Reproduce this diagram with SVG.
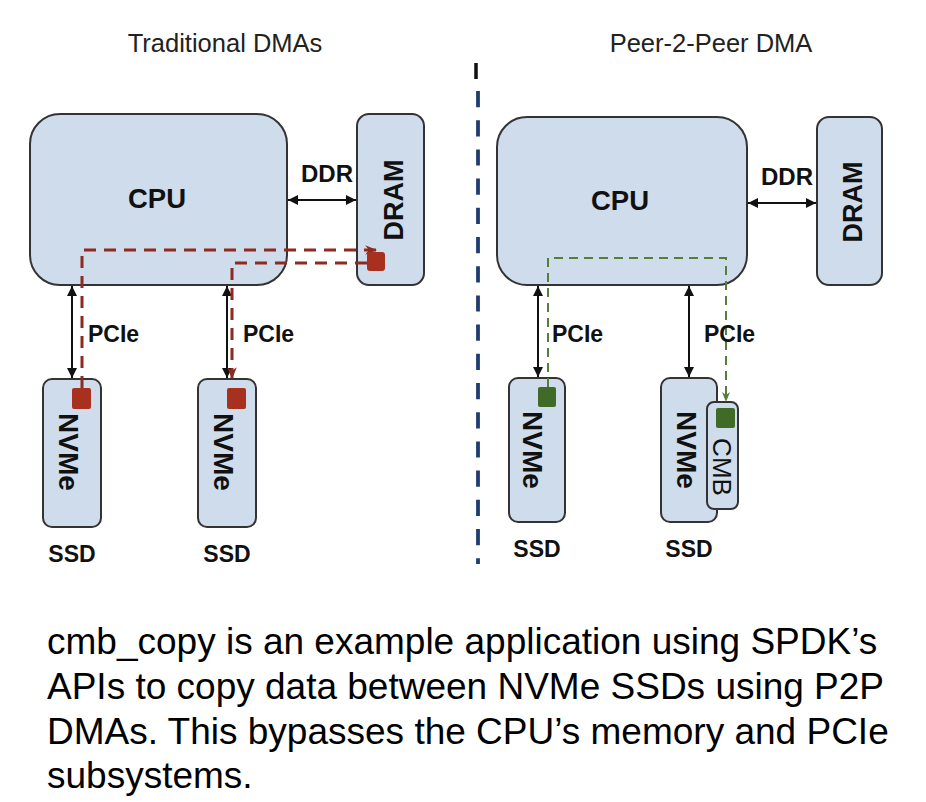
<svg xmlns="http://www.w3.org/2000/svg" width="926" height="802" viewBox="0 0 926 802">
<defs>
<style>
.box{fill:#cfdcec;stroke:#333;stroke-width:2}
.lbl{font-family:"Liberation Sans",Arial,sans-serif;font-weight:bold;fill:#111}
.ttl{font-family:"Liberation Sans",Arial,sans-serif;font-size:25.5px;fill:#222;text-anchor:middle}
.body{font-family:"Liberation Sans",Arial,sans-serif;font-size:37px;fill:#000}
.bus{stroke:#111;stroke-width:2;fill:none;marker-start:url(#ab);marker-end:url(#ab)}
.red{stroke:#8e2a20;stroke-width:3;fill:none;stroke-dasharray:12 8}
.grn{stroke:#557f38;stroke-width:2;fill:none;stroke-dasharray:9 6}
.rsq{fill:#a8301f}
.gsq{fill:#3f6a27}
</style>
<marker id="ab" viewBox="0 0 10 10" refX="10" refY="5" markerWidth="10" markerHeight="10" markerUnits="userSpaceOnUse" orient="auto-start-reverse">
<path d="M0,0 L10,5 L0,10 z" fill="#111"/>
</marker>
<marker id="ar" viewBox="0 0 10 10" refX="9" refY="5" markerWidth="12" markerHeight="12" markerUnits="userSpaceOnUse" orient="auto">
<path d="M0,1 L10,5 L0,9 L3,5 z" fill="#8e2a20"/>
</marker>
<marker id="ag" viewBox="0 0 10 10" refX="9" refY="5" markerWidth="10" markerHeight="10" markerUnits="userSpaceOnUse" orient="auto">
<path d="M0,1 L10,5 L0,9 L3,5 z" fill="#557f38"/>
</marker>
</defs>
<rect width="926" height="802" fill="#fff"/>

<text class="ttl" x="225" y="52">Traditional DMAs</text>
<text class="ttl" x="711" y="52">Peer-2-Peer DMA</text>

<g id="separator">
<line x1="476" y1="63" x2="476" y2="79" stroke="#111" stroke-width="3.5"/>
<line x1="478" y1="91" x2="478" y2="564" stroke="#1f3d70" stroke-width="3.8" stroke-dasharray="16.2 13"/>
</g>

<!-- Left diagram -->
<g id="cpu-l"><rect class="box" x="30" y="114" width="257" height="171" rx="30"/>
<text class="lbl" x="157" y="208" font-size="27.5" text-anchor="middle">CPU</text></g>
<g id="dram-l"><rect class="box" x="357" y="114" width="67" height="171" rx="12"/>
<text class="lbl" font-size="27" text-anchor="middle" transform="translate(403,200) rotate(-90)">DRAM</text></g>
<g id="nvme-l1"><rect class="box" x="43" y="379" width="58" height="148" rx="9"/>
<text class="lbl" font-size="28" text-anchor="middle" transform="translate(59,452) rotate(90)">NVMe</text></g>
<g id="nvme-l2"><rect class="box" x="198" y="379" width="58" height="148" rx="9"/>
<text class="lbl" font-size="28" text-anchor="middle" transform="translate(214,452) rotate(90)">NVMe</text></g>
<g id="ssd-l"><text class="lbl" font-size="23" x="72" y="562" text-anchor="middle">SSD</text>
<text class="lbl" font-size="23" x="227" y="562" text-anchor="middle">SSD</text></g>

<!-- Right diagram -->
<g id="cpu-r"><rect class="box" x="497" y="117" width="250" height="168" rx="30"/>
<text class="lbl" x="620" y="210" font-size="27.5" text-anchor="middle">CPU</text></g>
<g id="dram-r"><rect class="box" x="817" y="117" width="65" height="168" rx="12"/>
<text class="lbl" font-size="27" text-anchor="middle" transform="translate(862,202) rotate(-90)">DRAM</text></g>
<g id="nvme-r1"><rect class="box" x="509" y="378" width="56" height="144" rx="9"/>
<text class="lbl" font-size="28" text-anchor="middle" transform="translate(523,450) rotate(90)">NVMe</text></g>
<g id="nvme-r2"><rect class="box" x="661" y="378" width="56" height="144" rx="9"/>
<text class="lbl" font-size="28" text-anchor="middle" transform="translate(677,450) rotate(90)">NVMe</text></g>
<g id="cmb"><rect class="box" x="707" y="402" width="31" height="107" rx="7"/>
<text font-family="'Liberation Sans',Arial,sans-serif" font-size="26" fill="#111" text-anchor="middle" transform="translate(713,467) rotate(90)">CMB</text></g>
<g id="ssd-r"><text class="lbl" font-size="23" x="537" y="557" text-anchor="middle">SSD</text>
<text class="lbl" font-size="23" x="689" y="557" text-anchor="middle">SSD</text></g>

<g id="connectors">
<line class="bus" x1="288" y1="200" x2="356" y2="200"/>
<line class="bus" x1="72" y1="286" x2="72" y2="378"/>
<line class="bus" x1="227" y1="286" x2="227" y2="378"/>
<line class="bus" x1="748" y1="203" x2="816" y2="203"/>
<line class="bus" x1="538" y1="286" x2="538" y2="377"/>
<line class="bus" x1="689" y1="286" x2="689" y2="377"/>
<polyline class="red" points="82,388 82,250 376,250" marker-end="url(#ar)"/>
<polyline class="red" points="367,263 232,263 232,378" marker-end="url(#ar)"/>
<polyline class="grn" points="548,387 548,258 726,258 726,401" marker-end="url(#ag)"/>
</g>

<g id="bus-labels">
<text class="lbl" font-size="24" x="327" y="182" text-anchor="middle">DDR</text>
<text class="lbl" font-size="24" x="787" y="185" text-anchor="middle">DDR</text>
<text class="lbl" font-size="23" x="88" y="342">PCIe</text>
<text class="lbl" font-size="23" x="243" y="342">PCIe</text>
<text class="lbl" font-size="23" x="552" y="342">PCIe</text>
<text class="lbl" font-size="23" x="704" y="342">PCIe</text>
</g>

<g id="markers">
<rect class="rsq" x="367" y="252" width="18" height="19" rx="3"/>
<rect class="rsq" x="72" y="388" width="19" height="21" rx="2"/>
<rect class="rsq" x="227" y="388" width="19" height="21" rx="2"/>
<rect class="gsq" x="538" y="387" width="18" height="20" rx="2"/>
<rect class="gsq" x="716" y="408" width="19" height="20" rx="2"/>
</g>

<g id="caption">
<text class="body" x="47" y="654">cmb_copy is an example application using SPDK’s</text>
<text class="body" x="47" y="699">APIs to copy data between NVMe SSDs using P2P</text>
<text class="body" x="47" y="744">DMAs. This bypasses the CPU’s memory and PCIe</text>
<text class="body" x="47" y="788">subsystems.</text>
</g>
</svg>
